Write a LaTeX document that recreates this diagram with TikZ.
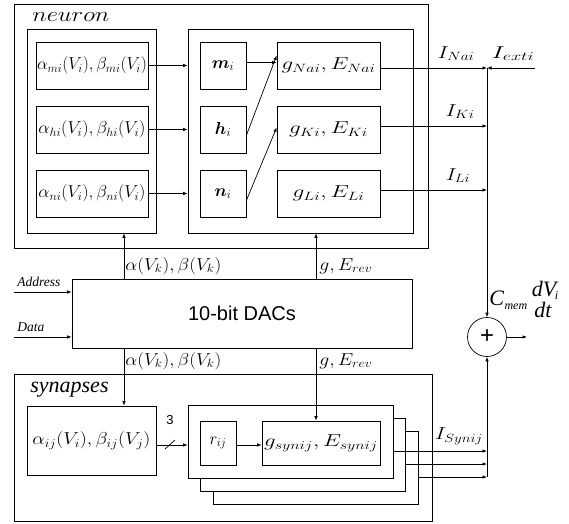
\documentclass[tikz,border=0pt]{standalone}
\usepackage{bm}
\usepackage{graphicx}
\usepackage{fontspec}
\newfontfamily\sansf{Liberation Sans}
\newfontfamily\timesf{Liberation Serif}
\DeclareMathSizes{17}{17}{13}{10}
\newcommand{\fw}[2]{\resizebox{#1}{\height}{#2}}
\usetikzlibrary{arrows.meta}
\begin{document}
\begin{tikzpicture}[x=1pt,y=-1pt,
  line width=0.7pt,
  box/.style={draw,rectangle,inner sep=0pt,fill=white},
  mtext/.style={font=\fontsize{17}{20}\selectfont},
  arr/.style={-{Latex[length=4.5pt,width=3.5pt]}},
  lbl/.style={font=\fontsize{17}{20}\selectfont,inner sep=0pt}]
\useasboundingbox (0,0) rectangle (569,523);
% neuron
\node[box,minimum width=414pt,minimum height=244pt] (neuron) at (221,126) {};
\node[lbl,font=\fontsize{21}{24}\selectfont,anchor=west] (neulbl) at (32,17) {\fw{77pt}{$neuron$}};
\node[box,minimum width=129pt,minimum height=204pt] (agrp) at (91.5,131) {};
\node[box,minimum width=225pt,minimum height=204pt] (rgrp) at (300.5,131) {};
\node[box,mtext,minimum width=112pt,minimum height=47pt] (am) at (92,65.5) {\fw{110pt}{$\alpha_{mi}(V_i),\beta_{mi}(V_i)$}};
\node[box,mtext,minimum width=112pt,minimum height=47pt] (ah) at (92,129.5) {\fw{107pt}{$\alpha_{hi}(V_i),\beta_{hi}(V_i)$}};
\node[box,mtext,minimum width=112pt,minimum height=47pt] (an) at (92,193.5) {\fw{107pt}{$\alpha_{ni}(V_i),\beta_{ni}(V_i)$}};
\node[box,mtext,minimum width=46pt,minimum height=47pt] (m) at (223,65.5) {$\bm{m}_i$};
\node[box,mtext,minimum width=46pt,minimum height=47pt] (h) at (223,129.5) {$\bm{h}_i$};
\node[box,mtext,minimum width=46pt,minimum height=47pt] (n) at (223,193.5) {$\bm{n}_i$};
\node[box,mtext,minimum width=103pt,minimum height=47pt] (gna) at (328.5,65.5) {\fw{94pt}{$g_{Nai},E_{Nai}$}};
\node[box,mtext,minimum width=103pt,minimum height=47pt] (gk) at (328.5,129.5) {\fw{79pt}{$g_{Ki},E_{Ki}$}};
\node[box,mtext,minimum width=103pt,minimum height=47pt] (gl) at (328.5,193.5) {\fw{72pt}{$g_{Li},E_{Li}$}};
\draw[arr] (am.east) -- (am.east -| rgrp.west);
\draw[arr] (ah.east) -- (ah.east -| rgrp.west);
\draw[arr] (an.east) -- (an.east -| rgrp.west);
\draw[arr] ([yshift=3pt]m.east) -- ([yshift=3pt]m.east -| gna.west);
\draw[arr] ([yshift=-6pt]h.east) -- ([yshift=10pt]gna.west);
\draw[arr] ([yshift=-7pt]n.east) -- ([yshift=2pt]gk.west);
% bus
\coordinate (bna) at (487,68);
\coordinate (bk) at (487,126);
\coordinate (bl) at (487,190);
\coordinate (ext) at (535,68);
\draw[arr] (gna.east |- bna) -- (bna);
\draw[arr] (ext) -- (bna);
\draw[arr] (gk.east |- bk) -- (bk);
\draw[arr] (gl.east |- bl) -- (bl);
\node[lbl,anchor=south] (ina) at (456,61) {\fw{37pt}{$I_{Nai}$}};
\node[lbl,anchor=south] (iext) at (513,61) {\fw{43pt}{$I_{exti}$}};
\node[lbl,anchor=south] (ik) at (460,119) {\fw{29pt}{$I_{Ki}$}};
\node[lbl,anchor=south] (il) at (458,183) {\fw{24pt}{$I_{Li}$}};
% plus
\node[draw,circle,minimum size=39pt,inner sep=0pt,font=\fontsize{24}{24}\selectfont\sansf] (plus) at (487,337) {+};
\coordinate (out) at (527,337);
\draw[arr] (bna) -- (plus.north);
\draw[arr] (plus.east) -- (out);
\node[inner sep=0pt,font=\fontsize{22}{24}\selectfont\timesf\itshape,anchor=base west] (cmem) at (489,305) {C\kern0.5pt\raisebox{-4pt}{\fontsize{12}{12}\selectfont mem}};
\node[inner sep=0pt,anchor=base,font=\fontsize{22}{24}\selectfont\timesf\itshape] (dv) at (545,296) {dV\kern-1.5pt\raisebox{-3pt}{\fontsize{12}{12}\selectfont i}};
\node[inner sep=0pt,anchor=base,font=\fontsize{22}{24}\selectfont\timesf\itshape] (dt) at (543,317) {dt};
% DAC
\node[box,minimum width=340pt,minimum height=69pt,font=\fontsize{20}{22}\selectfont\sansf] (dac) at (242,313.5) {10-bit DACs};
\coordinate (addr) at (14,292);
\coordinate (data) at (14,337);
\draw[arr] (addr) -- (addr -| dac.west);
\draw[arr] (data) -- (data -| dac.west);
\node[inner sep=0pt,font=\fontsize{13.5}{15}\selectfont\timesf\itshape,anchor=south west] (addrl) at (17,287) {Address};
\node[inner sep=0pt,font=\fontsize{13.5}{15}\selectfont\timesf\itshape,anchor=south west] (datal) at (17,332) {Data};
\coordinate (xa) at (124,0);
\coordinate (xg) at (316,0);
\draw[arr] (dac.north -| xa) -- (agrp.south -| xa);
\draw[arr] (dac.north -| xg) -- (rgrp.south -| xg);
\node[lbl,anchor=west] (abu) at (125,266) {\fw{96pt}{$\alpha(V_k),\beta(V_k)$}};
\node[lbl,anchor=west] (gbu) at (319,266) {\fw{53pt}{$g,E_{rev}$}};
\node[lbl,anchor=west] (abd) at (125,361) {\fw{96pt}{$\alpha(V_k),\beta(V_k)$}};
\node[lbl,anchor=west] (gbd) at (319,361) {\fw{53pt}{$g,E_{rev}$}};
% synapses
\node[box,minimum width=418pt,minimum height=147pt] (syn) at (223,447.5) {};
\node[inner sep=0pt,font=\fontsize{22}{24}\selectfont\timesf\itshape,anchor=west] (synl) at (30,390) {synapses};
\node[box,mtext,minimum width=129pt,minimum height=69pt] (asyn) at (91.5,440.5) {\fw{118pt}{$\alpha_{ij}(V_i),\beta_{ij}(V_j)$}};
\node[box,minimum width=205pt,minimum height=73pt] (s3) at (315.5,468) {};
\node[box,minimum width=205pt,minimum height=73pt] (s2) at (303,455) {};
\node[box,minimum width=205pt,minimum height=73pt] (s1) at (290.5,442) {};
\node[box,mtext,minimum width=36pt,minimum height=44pt] (r) at (218,443) {\fw{17pt}{$r_{ij}$}};
\node[box,mtext,minimum width=118pt,minimum height=44pt] (gs) at (321,443) {\fw{114pt}{$g_{synij},E_{synij}$}};
\draw[arr] (dac.south -| xa) -- (asyn.north -| xa);
\draw[arr] (dac.south -| xg) -- (gs.north -| xg);
\coordinate (yl) at (0,445);
\draw[arr] (asyn.east |- yl) -- (s1.west |- yl);
\draw (165,449) -- (175,440);
\node[inner sep=0pt,font=\fontsize{13}{14}\selectfont\sansf] (three) at (170,420) {3};
\draw[arr] (r.east |- yl) -- (gs.west |- yl);
\coordinate (b1) at (487,451);
\coordinate (b2) at (487,464);
\coordinate (b3) at (487,477);
\draw[arr] (s1.east |- b1) -- (b1);
\draw[arr] (s2.east |- b2) -- (b2);
\draw[arr] (s3.east |- b3) -- (b3);
\draw[arr] (b3) -- (plus.south);
\node[lbl,anchor=south] (isyn) at (459,445) {\fw{48pt}{$I_{Synij}$}};
\end{tikzpicture}
\end{document}
